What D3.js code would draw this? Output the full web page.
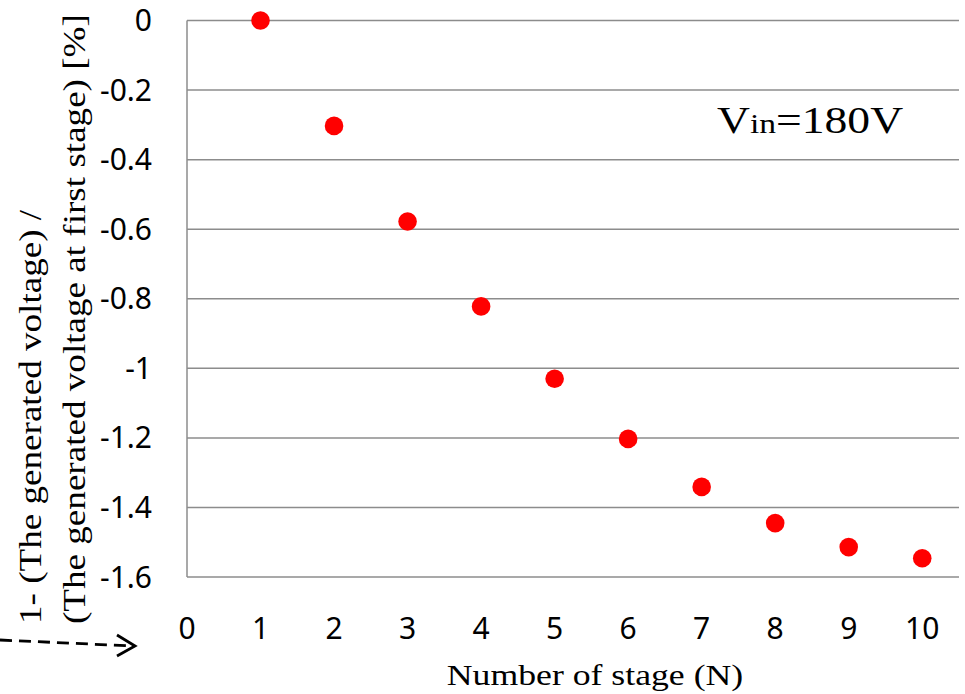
<!DOCTYPE html>
<html>
<head>
<meta charset="utf-8">
<script src="https://cdn.jsdelivr.net/npm/d3@7"></script>
<style>
  html, body { margin: 0; padding: 0; background: #fff; }
  svg { display: block; }
</style>
</head>
<body>
<div id="chart"></div>
<script>
const stages = [1, 2, 3, 4, 5, 6, 7, 8, 9, 10];
const ratio = [0, -0.303, -0.578, -0.822, -1.03, -1.203, -1.341, -1.445, -1.514, -1.546];
const xTicks = [0, 1, 2, 3, 4, 5, 6, 7, 8, 9, 10];
const yTicks = [0, -0.2, -0.4, -0.6, -0.8, -1, -1.2, -1.4, -1.6];
const yTitle = ["1- (The generated voltage) /", "(The generated voltage at first stage) [%]"];
const xTitle = "Number of stage (N)";

const width = 965, height = 694;
const plotL = 187, plotR = 959, plotT = 20.5, plotB = 577;
const serif = "'Liberation Serif', 'Times New Roman', serif";
const sans = "'Noto Sans', sans-serif";

const x = d3.scaleLinear().domain([0, 10.5]).range([plotL, plotR]);
const y = d3.scaleLinear().domain([-1.6, 0]).range([plotB, plotT]);

const svg = d3.select("#chart").append("svg")
  .attr("width", width)
  .attr("height", height);

// horizontal gridlines
svg.append("g")
  .selectAll("line")
  .data(yTicks)
  .join("line")
  .attr("x1", plotL).attr("x2", plotR)
  .attr("y1", d => y(d)).attr("y2", d => y(d))
  .attr("stroke", "#8c8c8c")
  .attr("stroke-width", 1.5);

// left axis line
svg.append("line")
  .attr("x1", plotL).attr("x2", plotL)
  .attr("y1", plotT).attr("y2", plotB)
  .attr("stroke", "#8c8c8c")
  .attr("stroke-width", 1.5);

// y tick labels
svg.append("g")
  .selectAll("text")
  .data(yTicks)
  .join("text")
  .attr("x", 152)
  .attr("y", d => y(d))
  .attr("dy", "0.35em")
  .attr("text-anchor", "end")
  .attr("font-family", sans)
  .attr("font-size", 30)
  .text(d => d);

// x tick labels
svg.append("g")
  .selectAll("text")
  .data(xTicks)
  .join("text")
  .attr("x", d => x(d))
  .attr("y", 639)
  .attr("text-anchor", "middle")
  .attr("font-family", sans)
  .attr("font-size", 30)
  .text(d => d);

// points
svg.append("g")
  .selectAll("circle")
  .data(stages)
  .join("circle")
  .attr("cx", d => x(d))
  .attr("cy", (d, i) => y(ratio[i]))
  .attr("r", 9.3)
  .attr("fill", "#ff0000");

// axis titles (original text is a bit wider than Liberation Serif)
svg.append("text")
  .attr("transform", "translate(595,685) scale(1.19,1)")
  .attr("text-anchor", "middle")
  .attr("font-family", serif)
  .attr("font-size", 30)
  .text(xTitle);

svg.selectAll("text.ytitle")
  .data(yTitle)
  .join("text")
  .attr("class", "ytitle")
  .attr("transform", (d, i) => `translate(${41 + i * 44},624) rotate(-90) scale(1.16,1)`)
  .attr("font-family", serif)
  .attr("font-size", 32)
  .text(d => d);

// Vin annotation
const vin = svg.append("text")
  .attr("transform", "translate(717,133) scale(1.2,1)")
  .attr("font-family", serif)
  .attr("font-size", 38);
vin.append("tspan").text("V");
vin.append("tspan").attr("font-size", 28).text("in");
vin.append("tspan").text("=180V");

// dashed arrow at bottom-left
svg.append("path")
  .attr("d", "M0,640 L133,646")
  .attr("fill", "none")
  .attr("stroke", "#000")
  .attr("stroke-width", 2.8)
  .attr("stroke-dasharray", "12,7");
svg.append("path")
  .attr("d", "M117,635 L135,646 L117,656")
  .attr("fill", "none")
  .attr("stroke", "#000")
  .attr("stroke-width", 2.8);
</script>
</body>
</html>
